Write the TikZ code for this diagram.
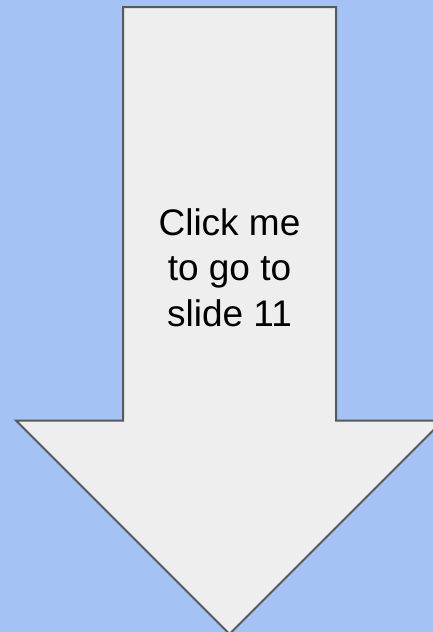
\documentclass[tikz,border=0pt]{standalone}
\usepackage{fontspec}
\setmainfont{Liberation Sans}
\definecolor{bgblue}{HTML}{A4C2F4}
\definecolor{arrowfill}{HTML}{EEEEEE}
\definecolor{arrowline}{HTML}{595959}
\begin{document}
\begin{tikzpicture}[x=1pt,y=-1pt,
  arrowshape/.style={fill=arrowfill,draw=arrowline,line width=2pt,line join=miter},
  label/.style={align=center,inner sep=0pt,font=\fontsize{37}{45.5}\selectfont}]
\useasboundingbox (0,0) rectangle (433,632);
\clip (0,0) rectangle (433,632);
\fill[bgblue] (0,0) rectangle (433,632);
\draw[arrowshape] (123,7) -- (336,7) -- (336,420.5) -- (443,420.5) -- (229.5,634) -- (16,420.5) -- (123,420.5) -- cycle;
\node[label] (txt) at (229.5,267.5) {Click me\\to go to\\slide 11};
\end{tikzpicture}
\end{document}
